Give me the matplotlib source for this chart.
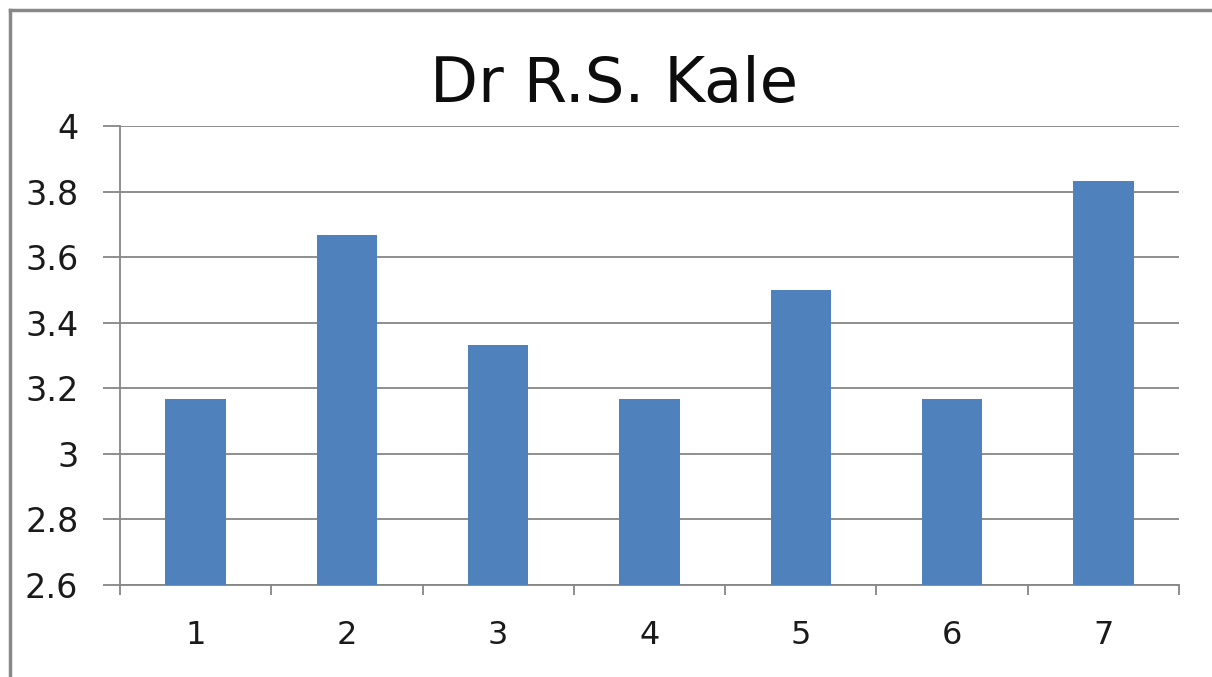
import matplotlib
matplotlib.use("Agg")
import matplotlib.pyplot as plt
from matplotlib.lines import Line2D
import numpy as np

plt.rcParams['font.family'] = ['DejaVu Sans']

# data
categories = ['1', '2', '3', '4', '5', '6', '7']
values = [3.167, 3.667, 3.333, 3.167, 3.5, 3.167, 3.833]
y_ticks = [2.6, 2.8, 3.0, 3.2, 3.4, 3.6, 3.8, 4.0]
y_labels = ['2.6', '2.8', '3', '3.2', '3.4', '3.6', '3.8', '4']
title = 'Dr R.S. Kale'

W, H = 1212, 677
fig = plt.figure(figsize=(W / 100, H / 100), dpi=100)
ax = fig.add_axes([120 / W, 1 - 585 / H, (1179 - 120) / W, (585 - 126) / H])

grey = '#868686'
x = np.arange(len(categories))
ax.bar(x, values, width=0.4, color='#4F81BD', zorder=3)

ax.set_xlim(-0.5, len(categories) - 0.5)
ax.set_ylim(2.6, 4.0)
ax.set_yticks(y_ticks)
ax.set_yticklabels(y_labels)
ax.set_xticks(x)
ax.set_xticklabels(categories)
ax.set_xticks(np.arange(-0.5, len(categories)), minor=True)

ax.grid(axis='y', color=grey, linewidth=1.3, zorder=0)
for s in ['top', 'right']:
    ax.spines[s].set_visible(False)
for s in ['left', 'bottom']:
    ax.spines[s].set_color(grey)
    ax.spines[s].set_linewidth(1.3)

ax.tick_params(axis='y', length=12, width=1.3, color=grey, pad=18, labelsize=24,
               labelcolor='#1a1a1a')
ax.tick_params(axis='x', which='major', length=0, pad=25, labelsize=23,
               labelcolor='#1a1a1a')
ax.tick_params(axis='x', which='minor', length=7, width=1.3, color=grey)

fig.text(614 / W, 1 - 102 / H, title, ha='center', va='baseline', fontsize=45,
         color='#0d0d0d')

# outer chart frame (left and top edges only visible)
fig.add_artist(Line2D([10 / W, 10 / W], [0, 1 - 10 / H], color='#888888', linewidth=2.5))
fig.add_artist(Line2D([10 / W, 1], [1 - 10 / H, 1 - 10 / H], color='#888888', linewidth=2.5))

fig.savefig('out.png', dpi=100)
